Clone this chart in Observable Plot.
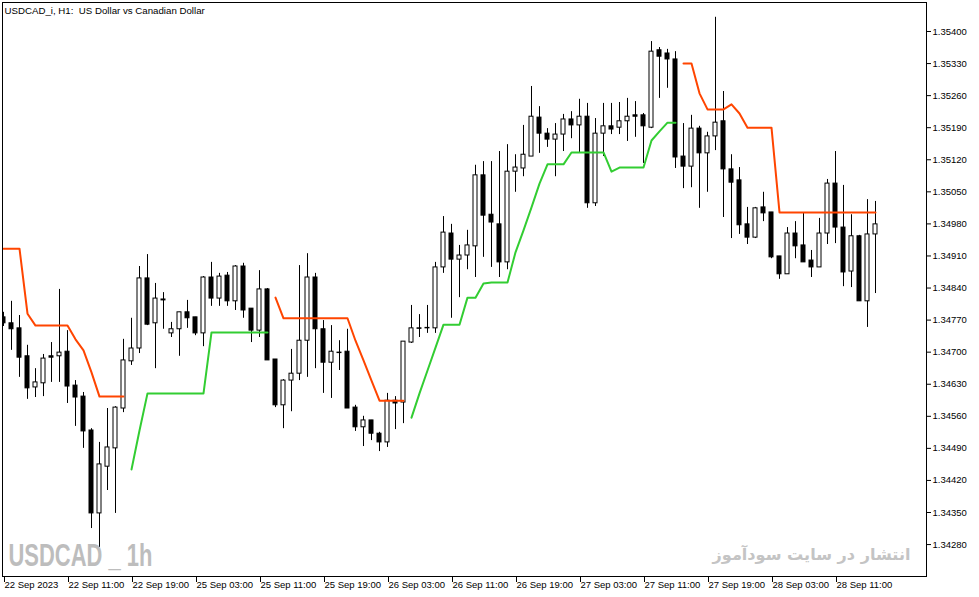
<!DOCTYPE html>
<html>
<head>
<meta charset="utf-8">
<script src="https://cdn.jsdelivr.net/npm/d3@7"></script>
<script src="https://cdn.jsdelivr.net/npm/@observablehq/plot@0.6"></script>
<style>
  body { margin: 0; background: #fff; }
</style>
</head>
<body>
<div id="chart"></div>
<script>
// USDCAD_i H1, 22 Sep 2023 03:00 .. 28 Sep 2023 16:00 (110 bars)
const open = [
  1.34776, 1.34763, 1.34752, 1.34691, 1.34623, 1.34632, 1.34691, 1.34691, 1.34701, 1.34627,
  1.34603, 1.34529, 1.34348, 1.34450, 1.34490, 1.34577, 1.34680, 1.34708, 1.34861, 1.34763,
  1.34815, 1.34741, 1.34750, 1.34787, 1.34776, 1.34741, 1.34863, 1.34817, 1.34867, 1.34811,
  1.34887, 1.34795, 1.34747, 1.34837, 1.34684, 1.34584, 1.34638, 1.34653, 1.34725, 1.34863,
  1.34750, 1.34677, 1.34699, 1.34701, 1.34579, 1.34536, 1.34551, 1.34522, 1.34503, 1.34594,
  1.34590, 1.34721, 1.34752, 1.34752, 1.34752, 1.34885, 1.34959, 1.34902, 1.34911, 1.34931,
  1.35086, 1.35000, 1.34979, 1.34896, 1.35094, 1.35101, 1.35127, 1.35212, 1.35177, 1.35164,
  1.35175, 1.35208, 1.35195, 1.35214, 1.35025, 1.35177, 1.35193, 1.35190, 1.35204, 1.35217,
  1.35217, 1.35190, 1.35359, 1.35352, 1.35339, 1.35127, 1.35105, 1.35188, 1.35134, 1.35171,
  1.35204, 1.35099, 1.35075, 1.34979, 1.34950, 1.35016, 1.35005, 1.34909, 1.34870, 1.34959,
  1.34933, 1.34900, 1.34885, 1.34959, 1.35068, 1.34972, 1.34876, 1.34953, 1.34811, 1.34957
];
const high = [
  1.34787, 1.34811, 1.34780, 1.34715, 1.34664, 1.34695, 1.34721, 1.34837, 1.34747, 1.34638,
  1.34612, 1.34533, 1.34503, 1.34577, 1.34581, 1.34728, 1.34774, 1.34887, 1.34913, 1.34850,
  1.34830, 1.34765, 1.34787, 1.34813, 1.34776, 1.34865, 1.34896, 1.34872, 1.34874, 1.34889,
  1.34894, 1.34795, 1.34878, 1.34839, 1.34684, 1.34640, 1.34706, 1.34889, 1.34915, 1.34872,
  1.34769, 1.34758, 1.34725, 1.34750, 1.34584, 1.34560, 1.34551, 1.34525, 1.34610, 1.34603,
  1.34723, 1.34802, 1.34782, 1.34802, 1.34896, 1.34996, 1.34979, 1.34933, 1.34966, 1.35108,
  1.35116, 1.35116, 1.35138, 1.35153, 1.35131, 1.35195, 1.35280, 1.35236, 1.35188, 1.35199,
  1.35219, 1.35225, 1.35252, 1.35243, 1.35210, 1.35243, 1.35243, 1.35245, 1.35254, 1.35247,
  1.35221, 1.35378, 1.35365, 1.35361, 1.35356, 1.35199, 1.35217, 1.35193, 1.35180, 1.35431,
  1.35269, 1.35131, 1.35103, 1.35016, 1.35016, 1.35049, 1.35005, 1.34909, 1.34972, 1.34985,
  1.35003, 1.34922, 1.34992, 1.35077, 1.35138, 1.35064, 1.35000, 1.34955, 1.35033, 1.35029
];
const low = [
  1.34756, 1.34704, 1.34645, 1.34597, 1.34601, 1.34603, 1.34634, 1.34634, 1.34588, 1.34538,
  1.34490, 1.34315, 1.34274, 1.34398, 1.34348, 1.34568, 1.34671, 1.34697, 1.34758, 1.34664,
  1.34750, 1.34732, 1.34691, 1.34752, 1.34736, 1.34712, 1.34800, 1.34800, 1.34800, 1.34791,
  1.34774, 1.34721, 1.34732, 1.34682, 1.34579, 1.34533, 1.34570, 1.34638, 1.34645, 1.34664,
  1.34610, 1.34599, 1.34660, 1.34577, 1.34527, 1.34494, 1.34507, 1.34483, 1.34492, 1.34531,
  1.34544, 1.34719, 1.34732, 1.34741, 1.34741, 1.34872, 1.34774, 1.34819, 1.34880, 1.34863,
  1.34907, 1.34885, 1.34863, 1.34880, 1.35049, 1.35083, 1.35127, 1.35134, 1.35147, 1.35083,
  1.35138, 1.35166, 1.35134, 1.35014, 1.35018, 1.35127, 1.35175, 1.35175, 1.35160, 1.35169,
  1.35112, 1.35188, 1.35254, 1.35276, 1.35101, 1.35057, 1.35059, 1.35014, 1.35049, 1.35140,
  1.34994, 1.34948, 1.34957, 1.34935, 1.34948, 1.34985, 1.34904, 1.34859, 1.34870, 1.34904,
  1.34896, 1.34863, 1.34885, 1.34935, 1.34937, 1.34843, 1.34841, 1.34811, 1.34754, 1.34828
];
const close = [
  1.34763, 1.34750, 1.34688, 1.34621, 1.34634, 1.34686, 1.34688, 1.34699, 1.34625, 1.34601,
  1.34527, 1.34348, 1.34455, 1.34492, 1.34579, 1.34682, 1.34708, 1.34861, 1.34760, 1.34817,
  1.34813, 1.34750, 1.34787, 1.34774, 1.34741, 1.34863, 1.34817, 1.34865, 1.34811, 1.34887,
  1.34791, 1.34747, 1.34837, 1.34682, 1.34584, 1.34638, 1.34653, 1.34725, 1.34863, 1.34750,
  1.34677, 1.34701, 1.34698, 1.34577, 1.34536, 1.34551, 1.34522, 1.34503, 1.34594, 1.34588,
  1.34723, 1.34752, 1.34751, 1.34753, 1.34885, 1.34961, 1.34902, 1.34911, 1.34933, 1.35086,
  1.34998, 1.34983, 1.34896, 1.35094, 1.35103, 1.35131, 1.35214, 1.35177, 1.35164, 1.35175,
  1.35208, 1.35195, 1.35214, 1.35025, 1.35177, 1.35193, 1.35186, 1.35204, 1.35214, 1.35214,
  1.35193, 1.35356, 1.35345, 1.35339, 1.35125, 1.35105, 1.35188, 1.35134, 1.35171, 1.35201,
  1.35099, 1.35070, 1.34977, 1.34950, 1.35014, 1.35003, 1.34907, 1.34870, 1.34959, 1.34931,
  1.34896, 1.34885, 1.34959, 1.35068, 1.34972, 1.34874, 1.34953, 1.34811, 1.34957, 1.34979
];
// indicator: red = resistance line, green = support line (null = not drawn)
const upper = [
  1.34926, 1.34926, 1.34926, 1.34784, 1.34758, 1.34758, 1.34758, 1.34758, 1.34758, 1.34728,
  1.34704, 1.34656, 1.34603, 1.34603, 1.34603, 1.34603, null, null, null, null,
  null, null, null, null, null, null, null, null, null, null,
  null, null, null, null, 1.34819, 1.34774, 1.34774, 1.34774, 1.34774, 1.34774,
  1.34774, 1.34774, 1.34774, 1.34774, 1.34725, 1.34682, 1.34638, 1.34594, 1.34594, 1.34594,
  1.34594, null, null, null, null, null, null, null, null, null,
  null, null, null, null, null, null, null, null, null, null,
  null, null, null, null, null, null, null, null, null, null,
  null, null, null, null, null, 1.35330, 1.35330, 1.35265, 1.35230, 1.35230,
  1.35230, 1.35241, 1.35221, 1.35190, 1.35190, 1.35190, 1.35190, 1.35005, 1.35005, 1.35005,
  1.35005, 1.35005, 1.35005, 1.35005, 1.35005, 1.35005, 1.35005, 1.35005, 1.35005, 1.35005
];
const lower = [
  null, null, null, null, null, null, null, null, null, null,
  null, null, null, null, null, null, 1.34444, 1.34529, 1.34610, 1.34610,
  1.34610, 1.34610, 1.34610, 1.34610, 1.34610, 1.34610, 1.34743, 1.34743, 1.34743, 1.34743,
  1.34743, 1.34743, 1.34743, 1.34743, null, null, null, null, null, null,
  null, null, null, null, null, null, null, null, null, null,
  null, 1.34557, 1.34610, 1.34660, 1.34710, 1.34760, 1.34760, 1.34760, 1.34819, 1.34819,
  1.34850, 1.34852, 1.34852, 1.34852, 1.34918, 1.34966, 1.35016, 1.35068, 1.35110, 1.35110,
  1.35110, 1.35136, 1.35136, 1.35136, 1.35136, 1.35136, 1.35094, 1.35103, 1.35103, 1.35103,
  1.35103, 1.35162, 1.35182, 1.35201, 1.35201, null, null, null, null, null,
  null, null, null, null, null, null, null, null, null, null,
  null, null, null, null, null, null, null, null, null, null
];

const xTickIdx = [0, 8, 16, 24, 32, 40, 48, 56, 64, 72, 80, 88, 96, 104];
const xTickLabels = [
  "22 Sep 2023", "22 Sep 11:00", "22 Sep 19:00", "25 Sep 03:00", "25 Sep 11:00",
  "25 Sep 19:00", "26 Sep 03:00", "26 Sep 11:00", "26 Sep 19:00", "27 Sep 03:00",
  "27 Sep 11:00", "27 Sep 19:00", "28 Sep 03:00", "28 Sep 11:00"
];
const yTicks = [
  1.34280, 1.34350, 1.34420, 1.34490, 1.34560, 1.34630, 1.34700, 1.34770, 1.34840,
  1.34910, 1.34980, 1.35050, 1.35120, 1.35190, 1.35260, 1.35330, 1.35400
];

const title = "USDCAD_i, H1:  US Dollar vs Canadian Dollar";
const wmLeft = "USDCAD _ 1h";
const wmRight = "انتشار در سایت سودآموز";

const rows = open.map((o, i) => ({
  i, open: o, high: high[i], low: low[i], close: close[i],
  upper: upper[i], lower: lower[i]
}));
const bull = rows.filter(d => d.close >= d.open);
const bear = rows.filter(d => d.close < d.open);
const labelOf = new Map(xTickIdx.map((d, k) => [d, xTickLabels[k]]));

let chart = Plot.plot({
  width: 979,
  height: 597,
  marginLeft: 2,
  marginRight: 53,
  marginTop: 2,
  marginBottom: 21,
  x: {type: "linear", domain: [-0.125, 115.375], label: null},
  y: {domain: [1.342103, 1.354633], label: null},
  style: {
    fontFamily: "'Liberation Sans', Arial, sans-serif",
    fontSize: "9.5px",
    background: "#fff",
    color: "#000"
  },
  marks: [
    // watermarks sit under the candles
    Plot.text([wmLeft], {frameAnchor: "bottom-left", dx: 6, dy: -20.5, textAnchor: "start",
      lineAnchor: "middle", fontSize: 31, fontWeight: "bold", fill: "#bdbdbd",
      fontFamily: "'Liberation Sans', Arial, sans-serif"}),
    Plot.text([wmRight], {frameAnchor: "bottom-right", dx: -115, dy: -22, textAnchor: "middle",
      lineAnchor: "middle", fontSize: 21, fontWeight: "bold", fill: "#c4c4c4",
      fontFamily: "'DejaVu Sans', sans-serif"}),
    Plot.ruleX(rows, {x: "i", y1: "low", y2: "high", stroke: "#000", clip: true}),
    Plot.rect(bull, {x1: d => d.i - 0.25, x2: d => d.i + 0.25, y1: "open", y2: "close",
      fill: "#fff", stroke: "#000", clip: true}),
    Plot.rect(bear, {x1: d => d.i - 0.25, x2: d => d.i + 0.25, y1: "open", y2: "close",
      fill: "#000", stroke: "#000", clip: true}),
    Plot.line(rows, {x: "i", y: "upper", stroke: "#ff4500", strokeWidth: 2, clip: true}),
    Plot.line(rows, {x: "i", y: "lower", stroke: "#32cd32", strokeWidth: 2, clip: true}),
    Plot.frame({stroke: "#000"}),
    Plot.axisY(yTicks, {anchor: "right", tickSize: 4, tickPadding: 2,
      tickFormat: d => d.toFixed(5)}),
    Plot.axisX(xTickIdx, {anchor: "bottom", tickSize: 6, tickPadding: -1, textAnchor: "start",
      dx: 1, tickFormat: d => labelOf.get(d)}),
    Plot.text([title], {frameAnchor: "top-left", dx: 2, dy: 8, textAnchor: "start",
      lineAnchor: "middle", fontSize: 9.7})
  ]
});

d3.select("#chart").append(() => chart);

// fit the watermarks to the widths seen in the reference
d3.select(chart).selectAll("text").each(function () {
  const t = this.textContent;
  if (t === wmLeft) d3.select(this).attr("textLength", 144).attr("lengthAdjust", "spacingAndGlyphs");
  if (t === wmRight) {
    const w = this.getComputedTextLength();
    if (w > 0) this.style.fontSize = (21 * 198 / w) + "px";
  }
  if (t === title) d3.select(this).style("white-space", "pre");
});
</script>
</body>
</html>
